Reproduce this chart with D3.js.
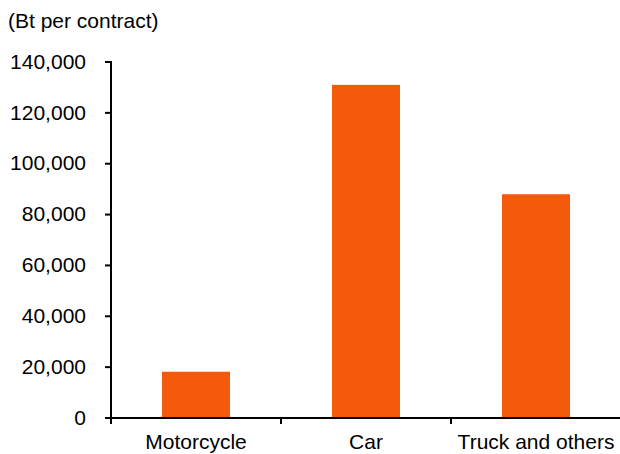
<!DOCTYPE html>
<html><head><meta charset="utf-8">
<script src="https://cdn.jsdelivr.net/npm/d3@7"></script>
<style>
html,body{margin:0;padding:0;background:#fff;}
svg{display:block;}
text{font-family:Arial,"Liberation Sans",sans-serif;fill:#000;}
</style></head>
<body>
<svg id="chart" width="620" height="454"></svg>
<script>
const categories = ["Motorcycle", "Car", "Truck and others"];
const values = [18200, 131000, 88000];
const yTicks = [0, 20000, 40000, 60000, 80000, 100000, 120000, 140000];
const unitLabel = "(Bt per contract)";

const svg = d3.select("#chart");
const mLeft = 111, mRight = 621, mTop = 62, mBottom = 418;
const fontSize = 21;

const x = d3.scaleBand().domain(categories).range([mLeft, mRight]).paddingInner(0.6).paddingOuter(0.3);
const y = d3.scaleLinear().domain([0, 140000]).range([mBottom, mTop]);

// bars
svg.append("g").selectAll("rect").data(values).join("rect")
  .attr("x", (d, i) => x(categories[i]))
  .attr("y", d => y(d))
  .attr("width", x.bandwidth())
  .attr("height", d => y(0) - y(d))
  .attr("fill", "#F4590C");

// y axis
const yAxis = d3.axisLeft(y).tickValues(yTicks).tickFormat(d3.format(",")).tickSize(6).tickSizeOuter(0).tickPadding(19).offset(0);
const gy = svg.append("g").attr("transform", `translate(${mLeft},0)`).call(yAxis);
gy.select(".domain").remove();
gy.append("line").attr("x1", 0).attr("x2", 0).attr("y1", y(140000) - 1).attr("y2", y(0) + 6)
  .attr("stroke", "#000").attr("stroke-width", 2);
gy.selectAll(".tick line").attr("stroke", "#000").attr("stroke-width", 2);
gy.selectAll(".tick text").attr("font-size", fontSize).attr("font-family", "Arial, 'Liberation Sans', sans-serif").attr("fill", "#000");

// x axis
const step = x.step();
const boundaries = categories.map(c => x(c) + x.bandwidth() + step * x.paddingInner() / 2);
const gx = svg.append("g");
gx.append("line").attr("x1", mLeft - 6).attr("x2", 620).attr("y1", y(0)).attr("y2", y(0))
  .attr("stroke", "#000").attr("stroke-width", 2);
gx.selectAll("line.tk").data(boundaries).join("line").attr("class", "tk")
  .attr("x1", d => d).attr("x2", d => d).attr("y1", y(0)).attr("y2", y(0) + 6)
  .attr("stroke", "#000").attr("stroke-width", 2);
gx.selectAll("text").data(categories).join("text")
  .attr("x", d => x(d) + x.bandwidth() / 2)
  .attr("y", y(0) + 31)
  .attr("text-anchor", "middle")
  .attr("font-size", fontSize)
  .text(d => d);

// unit label
svg.append("text").attr("x", 8).attr("y", 28).attr("font-size", fontSize).text(unitLabel);
</script>
</body></html>
